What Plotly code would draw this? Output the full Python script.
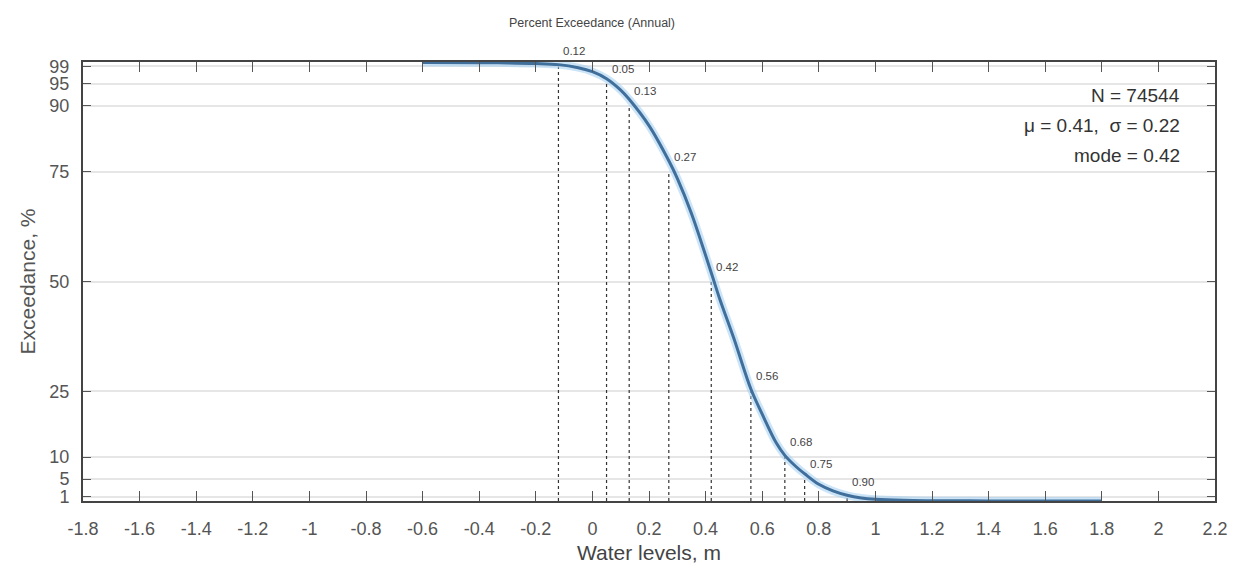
import plotly.graph_objects as go

# ---- data ----
water_levels = [-0.6, -0.4, -0.3, -0.2, -0.12, -0.05, 0.0, 0.05, 0.1, 0.13, 0.2, 0.27, 0.3,
                0.35, 0.42, 0.45, 0.5, 0.56, 0.6, 0.65, 0.68, 0.72, 0.75, 0.8, 0.85, 0.9,
                0.95, 1.0, 1.1, 1.2, 1.4, 1.6, 1.8]
exceedance = [99.9, 99.85, 99.8, 99.65, 99.4, 98.7, 97.8, 96.2, 93.6, 91.5, 85.5, 77.5, 73.5,
              65.5, 52.0, 46.0, 37.0, 25.5, 19.8, 13.2, 10.4, 7.8, 6.2, 3.8, 2.3, 1.3,
              0.7, 0.4, 0.15, 0.07, 0.02, 0.01, 0.0]

pct_levels = [99, 95, 90, 75, 50, 25, 10, 5, 1]
pct_values = [-0.12, 0.05, 0.13, 0.27, 0.42, 0.56, 0.68, 0.75, 0.90]
pct_labels = ["0.12", "0.05", "0.13", "0.27", "0.42", "0.56", "0.68", "0.75", "0.90"]

x_ticks = [-1.8, -1.6, -1.4, -1.2, -1.0, -0.8, -0.6, -0.4, -0.2, 0.0, 0.2, 0.4, 0.6, 0.8,
           1.0, 1.2, 1.4, 1.6, 1.8, 2.0, 2.2]
x_tick_labels = ["-1.8", "-1.6", "-1.4", "-1.2", "-1", "-0.8", "-0.6", "-0.4", "-0.2", "0",
                 "0.2", "0.4", "0.6", "0.8", "1", "1.2", "1.4", "1.6", "1.8", "2", "2.2"]
y_ticks = [1, 5, 10, 25, 50, 75, 90, 95, 99]
y_tick_labels = ["1", "5", "10", "25", "50", "75", "90", "95", "99"]

stats_lines = ["N = 74544", "\u03bc = 0.41,  \u03c3 = 0.22", "mode = 0.42"]
stats_y = [92.4, 85.6, 78.6]

FONT = "Liberation Sans, Arial, sans-serif"

fig = go.Figure()

# dotted percentile drop lines
dx, dy = [], []
for v, lv in zip(pct_values, pct_levels):
    dx += [v, v, None]
    dy += [0, lv, None]
fig.add_trace(go.Scatter(x=dx, y=dy, mode="lines",
                         line=dict(color="#333333", width=1.2, dash="dot"),
                         hoverinfo="skip", showlegend=False))

# glow under curve
fig.add_trace(go.Scatter(x=water_levels, y=exceedance, mode="lines",
                         line=dict(color="rgba(160,205,240,0.55)", width=8, shape="spline"),
                         hoverinfo="skip", showlegend=False))
# main curve
fig.add_trace(go.Scatter(x=water_levels, y=exceedance, mode="lines",
                         line=dict(color="#416f9b", width=3, shape="spline"),
                         showlegend=False))

annotations = []
for v, lv, lab in zip(pct_values, pct_levels, pct_labels):
    annotations.append(dict(x=v, y=lv, xref="x", yref="y", text=lab, showarrow=False,
                            xanchor="left", yanchor="bottom", xshift=3, yshift=7,
                            font=dict(family=FONT, size=11.5, color="#444444")))
for t, yy in zip(stats_lines, stats_y):
    annotations.append(dict(x=0.971, y=yy, xref="paper", yref="y", text=t, showarrow=False,
                            xanchor="right", yanchor="middle",
                            font=dict(family=FONT, size=19, color="#333333")))

fig.update_layout(
    width=1240, height=575,
    margin=dict(l=83, r=25, t=62, b=74),
    paper_bgcolor="white", plot_bgcolor="white",
    title=dict(text="Percent Exceedance (Annual)", x=592 / 1240, xanchor="center",
               y=1 - 23 / 575, yanchor="middle",
               font=dict(family=FONT, size=12.5, color="#444444")),
    annotations=annotations,
    font=dict(family=FONT),
)

fig.update_xaxes(range=[-1.8, 2.2], tickvals=x_ticks, ticktext=x_tick_labels,
                 ticks="inside", ticklen=10, tickcolor="#555555", tickwidth=1,
                 showline=True, linecolor="#444444", linewidth=2, mirror="allticks",
                 showgrid=False, zeroline=False, ticklabelstandoff=10,
                 tickfont=dict(family=FONT, size=18, color="#555555"),
                 title=dict(text="Water levels, m", font=dict(family=FONT, size=21, color="#444444"),
                            standoff=8))
fig.update_yaxes(range=[0, 100], tickvals=y_ticks, ticktext=y_tick_labels,
                 ticks="inside", ticklen=8, tickcolor="#555555", tickwidth=1,
                 showline=True, linecolor="#444444", linewidth=2, mirror="allticks",
                 showgrid=True, gridcolor="#e6e6e6", gridwidth=1.5, zeroline=False,
                 ticklabelstandoff=8,
                 tickfont=dict(family=FONT, size=18, color="#555555"),
                 title=dict(text="Exceedance, %", font=dict(family=FONT, size=21, color="#555555"),
                            standoff=8))

fig.write_html("out.html")
